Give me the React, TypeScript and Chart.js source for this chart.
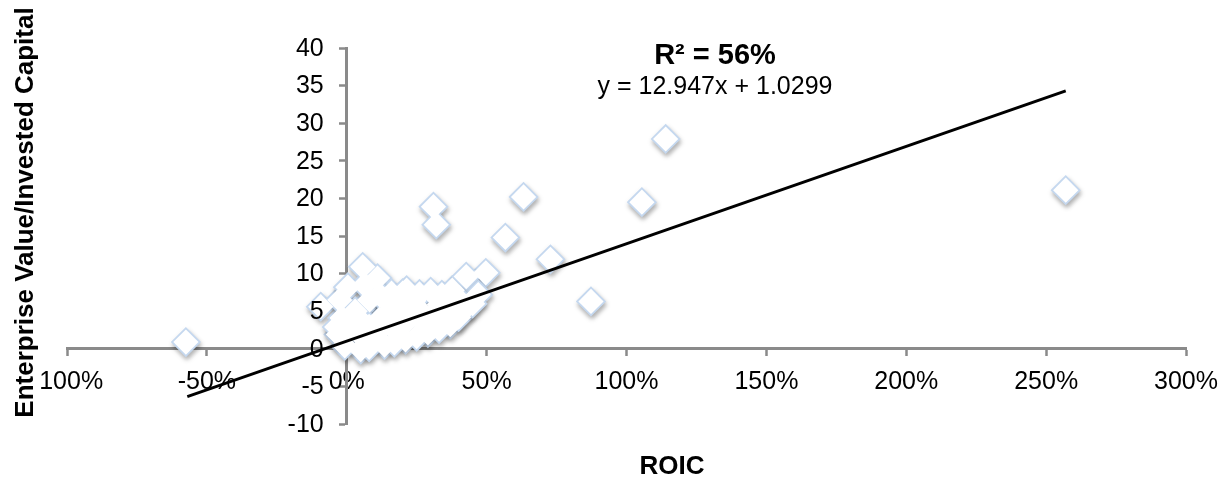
import React, { useEffect, useRef } from "react";
import { Chart, registerables } from "chart.js";

Chart.register(...registerables);

// ROIC (fraction) and EV/IC values
const roicValues: number[] = [
  -0.575, -0.093, 0.057, 0.31, 0.32, 0.632, 1.14, 1.055, 0.567, 0.728, 0.873, 0.497, 2.57,
  0.11, 0.16, 0.214, 0.26, 0.3, 0.34, 0.377, 0.427, 0.47, 0.42, 0.37, 0.29, 0.21, 0.135,
  0.05, -0.007, -0.03, -0.017, -0.025, 0.004,
  0.046, 0.117, 0.189, 0.26, 0.331, 0.402, 0.082, 0.153, 0.224, 0.295, 0.1, 0.171, 0.046,
  0.011, 0.064, 0.117, -0.036,
  0.08, 0.17, 0.25, 0.33, 0.4, 0.45, 0.2, 0.03, 0.14, 0.35, 0.24, 0.08, 0.19, 0.28, 0.36,
];
const evicValues: number[] = [
  0.9, 5.6, 10.9, 18.9, 16.5, 20.2, 27.9, 19.5, 14.8, 11.9, 6.3, 10.1, 21.1,
  9.4, 7.4, 7.8, 7.3, 7.6, 7.2, 7.8, 9.6, 7.2, 5.2, 3.2, 2.1, 1.2, 0.5,
  -0.1, 0.4, 1.9, 4.1, 6.5, 8.2,
  3.9, 3.9, 5.2, 5.2, 5.9, 6.5, 6.5, 5.9, 3.9, 4.1, 1.9, 2.5, 1.9,
  2.5, 8.5, 7.2, 2.9,
  0.2, 0.8, 1.6, 2.6, 4.2, 6.0, 7.4, 5.0, 4.5, 4.8, 6.4, 3.0, 3.1, 3.3, 6.2,
];

// Trend line end points (y = 12.947x + 1.0299)
const trendX: number[] = [-0.57, 2.57];
const trendY: number[] = [-6.35, 34.3];

const xTickLabels: string[] = ["-100%", "-50%", "0%", "50%", "100%", "150%", "200%", "250%", "300%"];
const yTickValues: number[] = [-10, -5, 0, 5, 10, 15, 20, 25, 30, 35, 40];
const yTickLabels: string[] = ["-10", "-5", "0", "5", "10", "15", "20", "25", "30", "35", "40"];

const xTitle = "ROIC";
const yTitle = "Enterprise Value/Invested Capital";
const r2Text = "R² = 56%";
const eqText = "y = 12.947x + 1.0299";

const FONT = "'Liberation Sans', Arial, sans-serif";

export default function App() {
  const canvasRef = useRef<HTMLCanvasElement | null>(null);

  useEffect(() => {
    const canvas = canvasRef.current;
    if (!canvas) return;

    const shadowPlugin = {
      id: "markerShadow",
      beforeDatasetDraw(chart: any, args: any) {
        if (args.index !== 2) return;
        const ctx = chart.ctx;
        ctx.save();
        ctx.shadowColor = "rgba(0,0,0,0.28)";
        ctx.shadowBlur = 5;
        ctx.shadowOffsetX = 1;
        ctx.shadowOffsetY = 3;
      },
      afterDatasetDraw(chart: any, args: any) {
        if (args.index !== 2) return;
        chart.ctx.restore();
      },
    };

    const yLabelPlugin = {
      id: "yLabels",
      afterDraw(chart: any) {
        const ctx = chart.ctx;
        const ys = chart.scales.y;
        const xs = chart.scales.x;
        const x0 = xs.getPixelForValue(0);
        ctx.save();
        ctx.fillStyle = "#000";
        ctx.font = `25px ${FONT}`;
        ctx.textAlign = "right";
        ctx.textBaseline = "middle";
        yTickValues.forEach((v, i) => {
          ctx.fillText(yTickLabels[i], x0 - 23, ys.getPixelForValue(v) + 1);
        });
        ctx.restore();
      },
    };

    const textPlugin = {
      id: "texts",
      afterDraw(chart: any) {
        const ctx = chart.ctx;
        ctx.save();
        ctx.fillStyle = "#000";
        // Y title (rotated)
        ctx.save();
        ctx.translate(33, 212.5);
        ctx.rotate(-Math.PI / 2);
        ctx.font = `bold 26px ${FONT}`;
        const w = ctx.measureText(yTitle).width;
        ctx.fillStyle = "#fff";
        ctx.fillRect(-w / 2 - 2, -21, w + 4, 27);
        ctx.fillStyle = "#000";
        ctx.textAlign = "center";
        ctx.textBaseline = "alphabetic";
        ctx.fillText(yTitle, 0, 0);
        ctx.restore();
        // X title
        ctx.font = `bold 26px ${FONT}`;
        ctx.textAlign = "center";
        ctx.textBaseline = "middle";
        ctx.fillText(xTitle, 672, 467);
        // R2 and equation
        ctx.font = `bold 29px ${FONT}`;
        ctx.fillText(r2Text, 715, 56);
        ctx.font = `25px ${FONT}`;
        ctx.fillText(eqText, 715, 87);
        ctx.restore();
      },
    };

    const points = roicValues.map((x, i) => ({ x, y: evicValues[i] }));
    const trend = trendX.map((x, i) => ({ x, y: trendY[i] }));

    const chart = new Chart(canvas, {
      type: "scatter",
      data: {
        datasets: [
          {
            type: "line",
            data: trend,
            borderColor: "#000",
            borderWidth: 3,
            pointRadius: 0,
            fill: false,
            showLine: true,
          } as any,
          {
            // white fill pass (drawn over the outlines so only outer edges remain)
            data: points,
            pointStyle: "rectRot",
            pointRadius: 12.6,
            pointBackgroundColor: "#ffffff",
            pointBorderWidth: 0,
          } as any,
          {
            // outline + shadow pass
            data: points,
            pointStyle: "rectRot",
            pointRadius: 13,
            pointBackgroundColor: "#ffffff",
            pointBorderColor: "#c5d8ef",
            pointBorderWidth: 3,
          } as any,
        ],
      },
      options: {
        animation: false,
        responsive: false,
        maintainAspectRatio: false,
        layout: { padding: { left: 67, right: 40, top: 48, bottom: 57 } },
        plugins: {
          legend: { display: false },
          tooltip: { enabled: false },
          title: { display: false },
        },
        scales: {
          x: {
            type: "linear",
            min: -1,
            max: 3,
            position: { y: 0 } as any,
            afterFit: (s: any) => {
              s.height = 0;
            },
            ticks: {
              stepSize: 0.5,
              color: "#000",
              font: { family: FONT, size: 25 },
              padding: 12,
              maxRotation: 0,
              autoSkip: false,
              callback: (_v: any, i: number) => xTickLabels[i],
            },
            grid: {
              drawOnChartArea: false,
              drawTicks: true,
              tickLength: 6,
              tickWidth: 2.5,
              tickColor: "#8a8a8a",
            },
            border: { display: true, color: "#8a8a8a", width: 3 },
          },
          y: {
            type: "linear",
            min: -10,
            max: 40,
            position: { x: 0 } as any,
            afterFit: (s: any) => {
              s.width = 0;
            },
            ticks: {
              stepSize: 5,
              display: false,
            },
            grid: {
              drawOnChartArea: false,
              drawTicks: true,
              tickLength: 6,
              tickWidth: 2.5,
              tickColor: "#8a8a8a",
            },
            border: { display: true, color: "#8a8a8a", width: 3 },
          },
        },
      },
      plugins: [shadowPlugin, yLabelPlugin, textPlugin],
    });

    return () => chart.destroy();
  }, []);

  return (
    <div style={{ position: "absolute", left: 0, top: 0, width: 1230, height: 481, background: "#fff" }}>
      <canvas ref={canvasRef} width={1230} height={481} style={{ width: 1230, height: 481, display: "block" }} />
    </div>
  );
}
